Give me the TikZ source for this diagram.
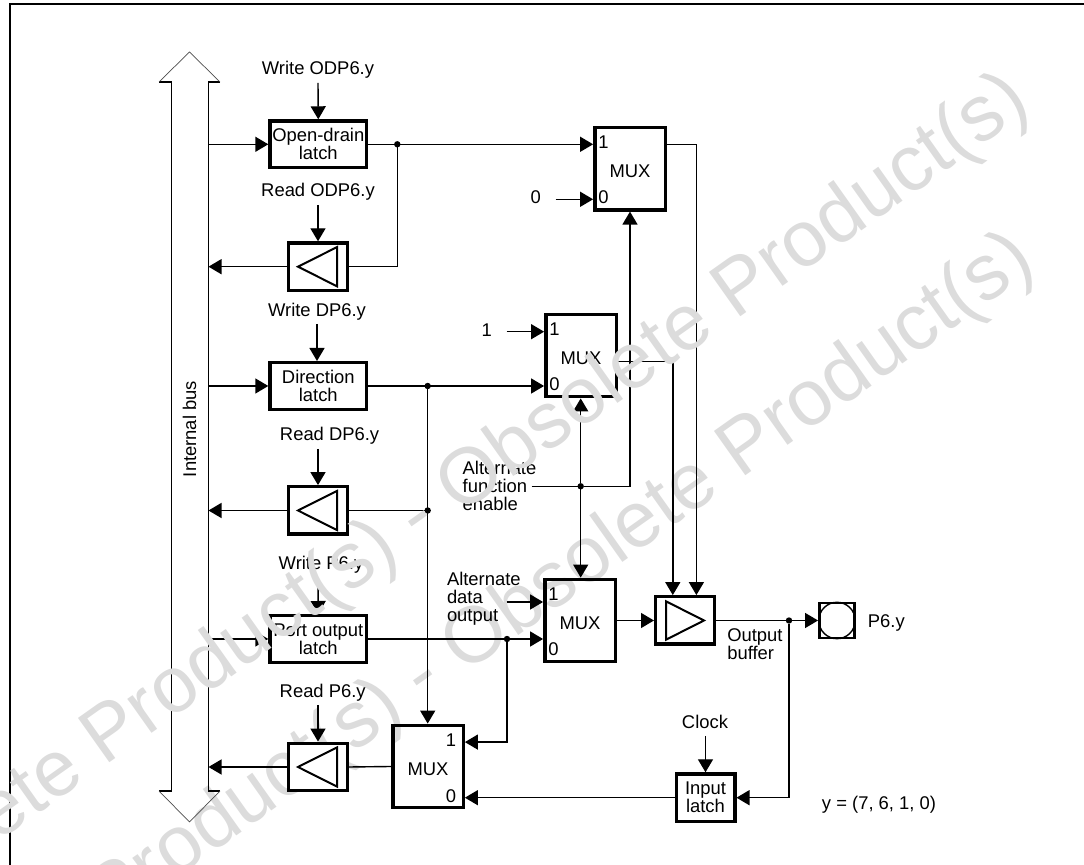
\documentclass[tikz,border=0pt]{standalone}
\usepackage{fontspec}
\setsansfont{Liberation Sans}
\definecolor{PortStamp}{HTML}{DCDCDC}
\usetikzlibrary{arrows.meta,positioning,calc}

\begin{document}
\begin{tikzpicture}[
  x=0.5pt,y=-0.5pt,
  every node/.style={font=\sffamily\fontsize{9.2}{9}\selectfont,inner sep=0pt,outer sep=auto},
  latch/.style={draw,line width=1.7pt,minimum width=48.3pt,minimum height=23.3pt,align=center},
  inlatch/.style={latch,minimum width=29.3pt,minimum height=23.7pt},
  rbuf/.style={draw,fill=white,line width=1.7pt,minimum width=29.3pt,minimum height=23.7pt},
  mux/.style={draw,line width=1.7pt,minimum width=35.2pt,minimum height=41.2pt,text height=8.6pt},
  muxnum/.style={inner sep=0pt},
  const/.style={minimum width=20pt,text depth=2pt},
  sig/.style={text height=6.6pt,text depth=0pt},
  dot/.style={circle,fill,minimum size=3.2pt},
  tri/.style={line width=1pt,line join=miter},
  wire/.style={line width=0.7pt},
  arr/.style={wire,-{Triangle[length=6.5pt,width=7.5pt]}},
  stamp/.style={text=PortStamp,rotate=35.3,font=\sffamily\fontsize{39.5}{40}\selectfont}
]
  \useasboundingbox (0,0) rectangle (1084,865);
  % lower stamp lies under the drawing
  \node[stamp] (stampb) at (424,678) {Obsolete Product(s) - Obsolete Product(s)};
  % page edge
  \draw[line width=1pt] (10,865) -- (10,4) -- (1084,4);
  % bus
  \draw[wire] (159,82) -- (171.7,82) -- (171.7,791) -- (159,791);
  \draw[wire] (220,82) -- (208.5,82) -- (208.5,791) -- (220,791);
  \draw[line width=0.35pt,black!70] (159,82) -- (189.5,52) -- (220,82);
  \draw[line width=0.35pt,black!70] (159,791) -- (189.5,822) -- (220,791);
  \node[rotate=90] (bus) at (189.6,429) {Internal bus};
  \coordinate (busr) at (208.5,429);
  % latches and read buffers
  \node[latch] (odl) at (318.3,144.3) {Open-drain\\latch};
  \node[rbuf] (rb1) at (318,266.7) {};
  \node[latch] (dl) at (318.3,386) {Direction\\latch};
  \node[rbuf] (rb2) at (318,510.5) {};
  \node[latch] (pl) at (318.3,639) {Port output\\latch};
  \node[rbuf] (rb3) at (318,767) {};
  \node[sig] (wodp) at (318,67.5) {Write ODP6.y};
  \node[sig] (rodp) at (318,189.5) {Read ODP6.y};
  \node[sig] (wdp) at (317,309.5) {Write DP6.y};
  \node[sig] (rdp) at (329.6,433.5) {Read DP6.y};
  \node[sig] (wp) at (321,562.5) {Write P6.y};
  \node[sig] (rp) at (322.7,690.5) {Read P6.y};
  \coordinate (wodpa) at (318,83);
  \coordinate (rodpa) at (318,205);
  \coordinate (wdpa) at (317,324);
  \coordinate (rdpa) at (318,449);
  \coordinate (wpa) at (318,584);
  \coordinate (rpa) at (318,705);
  % muxes
  \node[mux] (mux1) at (630,168.7) {MUX};
  \node[mux] (mux2) at (581,355.5) {MUX};
  \node[mux] (mux3) at (580,620.5) {MUX};
  \node[mux] (mux4) at (428,766.5) {MUX};
  \foreach \m in {mux1,mux2,mux3}{
    \node[muxnum] (\m one) at ($(\m.north west)+(10.5,16.5)$) {1};
    \node[muxnum] (\m zero) at ($(\m.south west)+(10.5,-14.5)$) {0};
  }
  \node[muxnum] (mux4one) at ($(mux4.north east)+(-14,16.5)$) {1};
  \node[muxnum] (mux4zero) at ($(mux4.south east)+(-14,-13)$) {0};
  \node[const] (lbl0) at (535.7,199.3) {0};
  \node[const] (lbl1) at (486.7,331.7) {1};
  % output side
  \node[rbuf] (obuf) at (685,620.5) {};
  \node[draw,line width=1.25pt,minimum size=17.7pt] (pad) at (837,620.5) {};
  \node[draw,circle,line width=0.7pt,minimum size=18.2pt] (padring) at (pad.center) {};
  \node[sig,right=6pt of pad] (py) {P6.y};
  \node[align=left,anchor=west] (oblbl) at (727.3,644.5) {Output\\buffer};
  \node[inlatch] (il) at (705.5,797.7) {Input\\latch};
  \node (clk) at (705,721.7) {Clock};
  \coordinate (clka) at (705.5,736);
  \node[sig] (ylbl) at (879,803) {y = (7, 6, 1, 0)};
  \node[align=left,anchor=west] (aflbl) at (462.7,486.3) {Alternate\\function\\enable};
  \node[align=left,anchor=west] (adlbl) at (447,598.5) {Alternate\\data\\output};
  \coordinate (afa) at (531.7,486.3);
  \coordinate (ada) at (506.7,602);
  % junctions
  \node[dot] (j1) at (397.3,144.3) {};
  \node[dot] (j2) at (427.7,386) {};
  \node[dot] (j3) at (427.7,510.5) {};
  \node[dot] (j4) at (580.7,486.3) {};
  \node[dot] (j5) at (507,639) {};
  \node[dot] (j6) at (789,620.5) {};
  % triangles in the buffers
  \foreach \b in {rb1,rb2,rb3}{
    \draw[tri] ([xshift=-10pt]\b.center) -- ([xshift=9.5pt,yshift=9.8pt]\b.center) -- ([xshift=9.5pt,yshift=-9.8pt]\b.center) -- cycle;
  }
  \draw[tri] ([xshift=9.5pt]obuf.center) -- ([xshift=-9.5pt,yshift=9.6pt]obuf.center) -- ([xshift=-9.5pt,yshift=-9.6pt]obuf.center) -- cycle;
  % control inputs
  \draw[arr] (wodpa) -- (odl.north);
  \draw[arr] (rodpa) -- (rb1.north);
  \draw[arr] (wdpa) -- (wdpa |- dl.north);
  \draw[arr] (rdpa) -- (rb2.north);
  \draw[arr] (wpa) -- (pl.north);
  \draw[arr] (rpa) -- (rb3.north);
  \draw[arr] (clka) -- (il.north);
  % bus to latches, buffers to bus
  \foreach \l in {odl,dl,pl}{\draw[arr] (busr |- \l.west) -- (\l.west);}
  \foreach \b in {rb1,rb2,rb3}{\draw[arr] (\b.west) -- (busr |- \b.west);}
  % latch outputs
  \draw[arr] (odl.east) -- (mux1.west |- odl.east);
  \draw[wire] (j1) |- (rb1.east);
  \draw[arr] (lbl0.east) -- (lbl0.east -| mux1.west);
  \draw[arr] (dl.east) -- (mux2.west |- dl.east);
  \draw[arr] (lbl1.east) -- (lbl1.east -| mux2.west);
  \draw[wire] (rb2.east) -- (j3);
  \draw[arr] (j2) -- (j2 |- mux4.north);
  \draw[arr] (pl.east) -- (mux3.west |- pl.east);
  \draw[arr] (ada) -- (ada -| mux3.west);
  \draw[arr] (j5) |- ([yshift=12.2pt]mux4.east);
  \draw[wire] (rb3.east) -- (mux4.west);
  % alternate function enable
  \draw[wire] (afa) -- (j4);
  \draw[arr] (j4) -| (mux1.south);
  \draw[arr] (j4) -- (j4 |- mux2.south);
  \draw[arr] (j4) -- (j4 |- mux3.north);
  % output stage
  \draw[arr] (mux1.east |- odl.east) -| ([xshift=5.7pt]obuf.north);
  \draw[arr] ([yshift=-2.9pt]mux2.east) -| ([xshift=-6.1pt]obuf.north);
  \draw[arr] (mux3.east) -- (obuf.west);
  \draw[wire] (obuf.east) -- (j6);
  \draw[arr] (j6) -- (pad.west);
  \draw[arr] (j6) |- (il.east);
  \draw[arr] (il.west) -- (il.west -| mux4.east);
  % upper stamp lies over the drawing
  \node[stamp] (stampa) at (419,519) {Obsolete Product(s) - Obsolete Product(s)};
\end{tikzpicture}
\end{document}
